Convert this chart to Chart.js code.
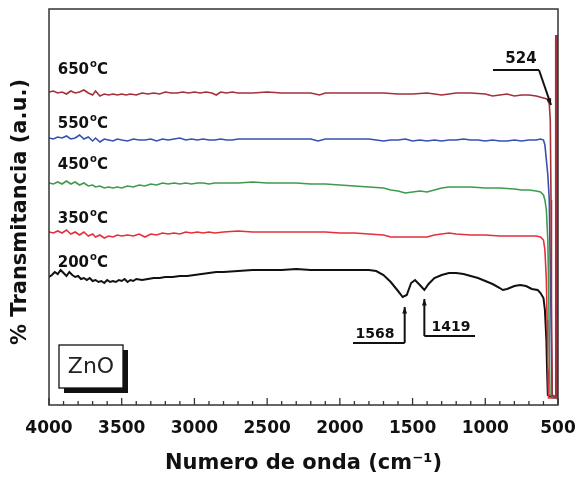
<!DOCTYPE html>
<html>
<head>
<meta charset="utf-8">
<script src="https://cdn.jsdelivr.net/npm/chart.js@4.4.1/dist/chart.umd.min.js"></script>
<style>
  html, body { margin: 0; padding: 0; background: #fff; }
  #wrap { width: 577px; height: 477px; }
</style>
</head>
<body>
<div id="wrap"><canvas id="myChart" width="577" height="477"></canvas></div>
<script>
// temperaturas de calcinado
var temps = ["650", "550", "450", "350", "200"];
var colors = ["#a3303a", "#3452b0", "#3f9a4e", "#e4303c", "#111111"];

// numero de onda (cm-1) y transmitancia (a.u.) de cada curva
var wn650 = [4000,3970,3940,3910,3880,3850,3820,3790,3760,3730,3700,3680,3650,3620,3590,3560,3530,3500,3470,3440,3400,3360,3320,3280,3240,3200,3160,3120,3080,3040,3000,2960,2920,2880,2850,2820,2780,2740,2700,2600,2500,2400,2300,2200,2140,2100,2000,1900,1800,1700,1600,1500,1400,1300,1250,1200,1100,1000,950,900,850,800,750,700,650,600,575,560,553,548,545,540,512,509];
var t650 = [313,314,312,313,311,314,312,313,315,312,310,314,309,311,310,311,310,311,310,311,310,312,311,312,311,313,312,312,313,312,313,312,313,312,310,313,312,313,312,312,313,312,312,312,310,312,312,312,312,312,311,311,312,310,311,312,312,311,309,310,311,309,310,310,309,307,306,301,285,205,105,10,8,370];

var wn550 = [4000,3970,3940,3910,3880,3850,3820,3790,3760,3730,3700,3680,3650,3620,3590,3560,3530,3500,3460,3420,3380,3340,3300,3260,3220,3180,3140,3100,3060,3020,2980,2940,2900,2860,2820,2780,2740,2700,2600,2500,2400,2300,2200,2150,2100,2000,1900,1800,1750,1700,1650,1600,1550,1500,1450,1400,1350,1300,1250,1200,1150,1100,1050,1000,950,900,850,800,750,700,650,620,600,590,580,570,560,550,540,515,511];
var t550 = [267,266,268,267,269,266,267,270,266,268,264,267,263,266,265,264,266,265,264,266,265,265,266,264,266,265,266,267,265,266,265,266,265,265,266,265,265,266,266,266,266,266,266,264,266,266,266,266,265,264,265,265,266,264,265,264,265,264,265,265,266,265,265,264,265,264,264,265,264,265,265,266,265,260,245,230,205,105,10,7,27];

var wn450 = [4000,3970,3940,3910,3880,3850,3820,3790,3760,3730,3700,3680,3650,3620,3590,3560,3530,3500,3460,3420,3380,3340,3300,3260,3220,3180,3140,3100,3060,3020,2980,2940,2900,2860,2800,2700,2600,2500,2400,2300,2200,2100,2000,1900,1800,1700,1650,1600,1550,1500,1450,1400,1350,1300,1250,1200,1100,1000,900,800,750,700,650,620,600,590,580,570,565,560,555,520];
var t450 = [222,221,223,221,224,221,223,220,222,219,220,218,219,217,218,217,218,217,219,218,220,219,221,220,222,221,222,221,222,221,222,222,221,222,222,222,223,222,222,222,221,221,220,219,218,217,215,214,212,213,214,213,215,217,218,218,218,217,217,216,215,215,214,213,210,205,195,165,125,65,10,7];

var wn350 = [4000,3970,3940,3910,3880,3850,3820,3790,3760,3730,3700,3680,3650,3620,3590,3560,3530,3500,3460,3420,3380,3340,3300,3260,3220,3180,3140,3100,3060,3020,2980,2940,2900,2860,2800,2700,2600,2500,2400,2300,2200,2100,2000,1900,1800,1700,1650,1600,1500,1400,1350,1300,1250,1200,1100,1000,900,800,700,650,620,600,590,580,575,570,565,520];
var t350 = [173,172,174,172,175,171,173,170,173,169,171,168,170,167,169,168,170,169,170,169,171,168,171,170,172,171,172,171,173,172,173,172,173,172,173,174,173,173,173,173,173,173,172,172,171,170,168,168,168,168,170,171,172,171,170,170,169,169,169,169,168,165,155,125,85,45,7,7];

var wn200 = [4000,3980,3960,3940,3920,3900,3880,3860,3840,3820,3800,3780,3760,3740,3720,3700,3680,3660,3640,3620,3600,3580,3560,3540,3520,3500,3480,3460,3440,3420,3400,3360,3320,3280,3240,3200,3150,3100,3050,3000,2950,2900,2850,2800,2700,2600,2500,2400,2300,2200,2100,2000,1900,1800,1750,1700,1650,1600,1568,1540,1510,1483,1450,1419,1390,1350,1300,1250,1200,1150,1100,1050,1000,950,900,880,850,800,760,720,680,640,620,600,590,580,575,570,520];
var t200 = [128,130,133,131,135,132,129,133,130,128,129,126,127,125,127,124,125,123,124,122,125,123,124,123,125,124,126,123,125,124,126,125,126,127,127,128,128,129,129,130,131,132,133,133,134,135,135,135,136,135,135,135,135,135,134,130,123,114,108,110,122,125,120,115,121,127,130,132,132,131,129,127,124,121,117,115,116,119,120,119,116,115,112,107,95,65,35,10,7];

var xTicks = [4000, 3500, 3000, 2500, 2000, 1500, 1000, 500];
var peaks = [1568, 1419];
var band = 524;

function pts(wn, t) {
    return wn.map((w, i) => ({ x: w, y: t[i] }));
}

var series = [pts(wn650, t650), pts(wn550, t550), pts(wn450, t450), pts(wn350, t350), pts(wn200, t200)];

// flecha simple
function arrow(ctx, x1, y1, x2, y2) {
    ctx.beginPath();
    ctx.moveTo(x1, y1);
    ctx.lineTo(x2, y2);
    ctx.stroke();
    let a = Math.atan2(y2 - y1, x2 - x1);
    ctx.beginPath();
    ctx.moveTo(x2, y2);
    ctx.lineTo(x2 - 7 * Math.cos(a - 0.35), y2 - 7 * Math.sin(a - 0.35));
    ctx.lineTo(x2 - 7 * Math.cos(a + 0.35), y2 - 7 * Math.sin(a + 0.35));
    ctx.closePath();
    ctx.fill();
}

var extras = {
    id: "extras",
    afterDraw(chart) {
        let ctx = chart.ctx;
        let area = chart.chartArea;
        let xs = chart.scales.x;
        let ys = chart.scales.y;
        ctx.save();

        // marco
        ctx.strokeStyle = "#333";
        ctx.lineWidth = 1.5;
        ctx.strokeRect(area.left, area.top, area.right - area.left, area.bottom - area.top);

        // ticks hacia adentro
        ctx.lineWidth = 1.3;
        for (let w = 500; w <= 4000; w += 100) {
            let px = xs.getPixelForValue(w);
            let len = w % 500 === 0 ? 7 : 4;
            ctx.beginPath();
            ctx.moveTo(px, area.bottom);
            ctx.lineTo(px, area.bottom - len);
            ctx.stroke();
        }

        // titulo eje y
        ctx.fillStyle = "#111";
        ctx.font = "bold 21px 'DejaVu Sans'";
        ctx.textAlign = "center";
        ctx.textBaseline = "middle";
        ctx.translate(21, 212);
        ctx.rotate(-Math.PI / 2);
        ctx.fillText("% Transmitancia (a.u.)", 0, 0);
        ctx.setTransform(1, 0, 0, 1, 0, 0);

        // etiquetas de temperatura
        let labelY = [337, 283, 242, 188, 144];
        ctx.textAlign = "left";
        ctx.textBaseline = "alphabetic";
        temps.forEach((t, i) => {
            let x = xs.getPixelForValue(3940);
            let y = ys.getPixelForValue(labelY[i]) + 6;
            ctx.font = "bold 15px 'DejaVu Sans'";
            ctx.fillText(t, x, y);
            let w = ctx.measureText(t).width;
            ctx.font = "bold 10px 'DejaVu Sans'";
            ctx.fillText("o", x + w + 1, y - 7);
            ctx.font = "bold 15px 'DejaVu Sans'";
            ctx.fillText("C", x + w + 8, y);
        });

        // 524
        ctx.strokeStyle = "#111";
        ctx.fillStyle = "#111";
        ctx.lineWidth = 2;
        ctx.font = "bold 15px 'DejaVu Sans'";
        ctx.textAlign = "center";
        ctx.fillText(String(band), 521, 63);
        let tipX = xs.getPixelForValue(band + 24);
        ctx.beginPath();
        ctx.moveTo(493, 70);
        ctx.lineTo(539, 70);
        ctx.stroke();
        arrow(ctx, 539, 70, tipX, 105);

        // 1568
        ctx.font = "bold 14px 'DejaVu Sans'";
        let p1 = xs.getPixelForValue(peaks[0]) + 2;
        ctx.beginPath();
        ctx.moveTo(353, 343);
        ctx.lineTo(p1, 343);
        ctx.stroke();
        arrow(ctx, p1, 343, p1, 307);
        ctx.fillText(String(peaks[0]), 375, 338);

        // 1419
        let p2 = xs.getPixelForValue(peaks[1]);
        ctx.beginPath();
        ctx.moveTo(475, 336);
        ctx.lineTo(p2, 336);
        ctx.stroke();
        arrow(ctx, p2, 336, p2, 299);
        ctx.fillText(String(peaks[1]), 451, 331);

        // cuadro ZnO
        ctx.fillStyle = "#111";
        ctx.fillRect(64, 350, 64, 43);
        ctx.fillStyle = "#fff";
        ctx.fillRect(59, 345, 64, 43);
        ctx.lineWidth = 1.3;
        ctx.strokeRect(59, 345, 64, 43);
        ctx.fillStyle = "#222";
        ctx.font = "22px 'DejaVu Sans'";
        ctx.textBaseline = "middle";
        ctx.fillText("ZnO", 91, 367);

        ctx.restore();
    }
};

let ctx = document.getElementById("myChart").getContext("2d");
let chart = new Chart(ctx, {
    type: "line",
    data: {
        datasets: series.map((s, i) => ({
            label: temps[i] + " °C",
            data: s,
            borderColor: colors[i],
            borderWidth: i === 4 ? 2 : 1.6,
            // el ultimo tramo de 650 sube como una barra gruesa
            segment: {
                borderWidth: c => (i === 0 && c.p1DataIndex === s.length - 1) ? 3.5 : undefined
            },
            pointRadius: 0,
            tension: 0,
            fill: false
        }))
    },
    options: {
        responsive: false,
        animation: false,
        layout: { padding: { left: 49, top: 9, right: 19, bottom: 0 } },
        plugins: { legend: { display: false }, tooltip: { enabled: false } },
        scales: {
            x: {
                type: "linear",
                reverse: true,
                min: 500,
                max: 4000,
                afterBuildTicks: scale => { scale.ticks = xTicks.map(v => ({ value: v })); },
                afterFit: scale => {
                    scale.height = 72;
                    scale.paddingLeft = 0;
                    scale.paddingRight = 0;
                },
                ticks: {
                    autoSkip: false,
                    maxRotation: 0,
                    padding: 13,
                    color: "#111",
                    callback: v => String(v),
                    font: { family: "DejaVu Sans", size: 17, weight: "bold" }
                },
                grid: { display: false, drawTicks: false },
                border: { display: false },
                title: {
                    display: true,
                    text: "Numero de onda (cm\u207B\u00B9)",
                    color: "#111",
                    padding: { top: 0, bottom: 1 },
                    font: { family: "DejaVu Sans", size: 21, weight: "bold" }
                }
            },
            y: {
                display: false,
                min: 0,
                max: 396
            }
        }
    },
    plugins: [extras]
});
</script>
</body>
</html>
